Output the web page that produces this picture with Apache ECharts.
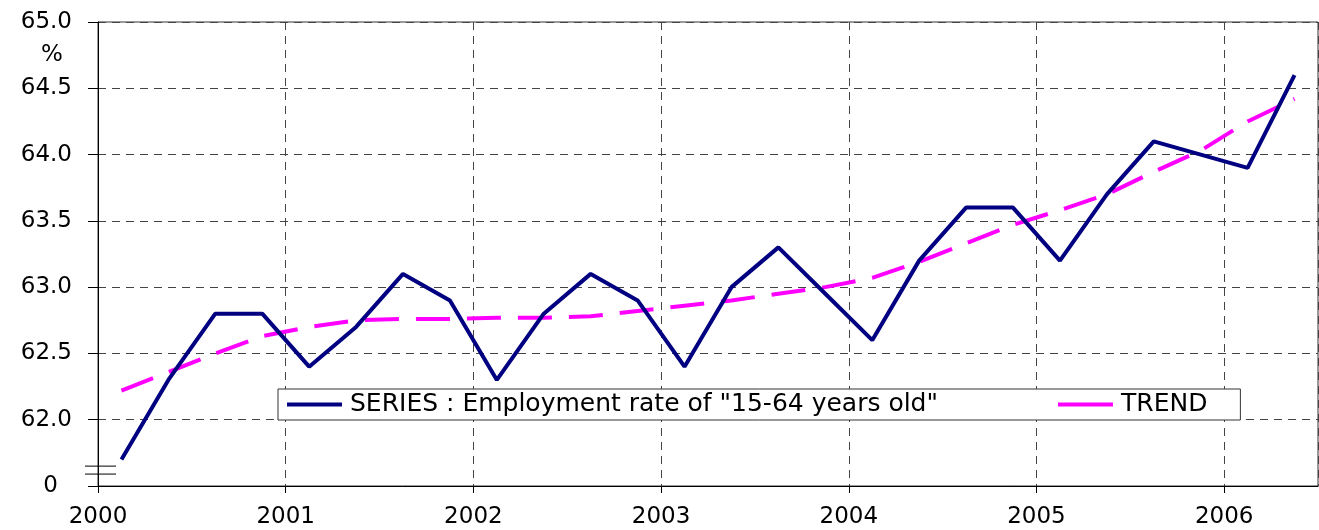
<!DOCTYPE html>
<html>
<head>
<meta charset="utf-8">
<script src="https://cdn.jsdelivr.net/npm/echarts@6/dist/echarts.min.js"></script>
<style>
	html, body { margin: 0; padding: 0; background: #fff; }
	#chart { width: 1319px; height: 530px; }
</style>
</head>
<body>
<div id="chart"></div>
<script>
// 季度
var quarters = [
	"2000Q1", "2000Q2", "2000Q3", "2000Q4",
	"2001Q1", "2001Q2", "2001Q3", "2001Q4",
	"2002Q1", "2002Q2", "2002Q3", "2002Q4",
	"2003Q1", "2003Q2", "2003Q3", "2003Q4",
	"2004Q1", "2004Q2", "2004Q3", "2004Q4",
	"2005Q1", "2005Q2", "2005Q3", "2005Q4",
	"2006Q1", "2006Q2"
];
// 就業率
var employmentRate = [
	61.7, 62.3, 62.8, 62.8,
	62.4, 62.7, 63.1, 62.9,
	62.3, 62.8, 63.1, 62.9,
	62.4, 63.0, 63.3, 62.95,
	62.6, 63.2, 63.6, 63.6,
	63.2, 63.7, 64.1, 64.0,
	63.9, 64.6
];
// 趨勢
var trend = [
	62.22, 62.36, 62.5, 62.63,
	62.7, 62.75, 62.76, 62.76,
	62.77, 62.77, 62.78, 62.82,
	62.86, 62.9, 62.95, 63.0,
	63.07, 63.19, 63.33, 63.47,
	63.58, 63.7, 63.87, 64.03,
	64.25, 64.42
];
var yearTicks = [2000, 2001, 2002, 2003, 2004, 2005, 2006];
var yTicks = [61.5, 62.0, 62.5, 63.0, 63.5, 64.0, 64.5, 65.0];
var seriesName = 'SERIES : Employment rate of "15-64 years old"';
var trendName = "TREND";

var FONT = "DejaVu Sans";

// 季度 -> 年份中點
function quarterX(q) {
	var year = parseInt(q.slice(0, 4), 10);
	var n = parseInt(q.slice(5), 10);
	return year + (n - 0.5) / 4;
}

function pairs(values) {
	return quarters.map(function (q, i) {
		return [quarterX(q), values[i]];
	});
}

function Line(dom) {
	var myChart = echarts.init(dom, null, {
		renderer: "canvas",
		useDirtyRect: false
	});
	var dashGrid = {
		show: true,
		lineStyle: { color: "#444", type: [8, 6], width: 1 }
	};
	var option = {
		animation: false,
		backgroundColor: "#fff",
		grid: {
			left: 98,
			right: 1,
			top: 22,
			bottom: 44,
			show: true,
			borderColor: "#333",
			borderWidth: 1
		},
		legend: {
			show: true,
			left: 278,
			top: 389,
			backgroundColor: "#fff",
			borderColor: "#333",
			borderWidth: 1,
			padding: [3, 33, 3, 9],
			itemGap: 120,
			icon: "rect",
			itemWidth: 55,
			itemHeight: 4,
			textStyle: { fontFamily: FONT, fontSize: 25, color: "#000", padding: [0, 0, 0, 3] },
			data: [seriesName, trendName]
		},
		xAxis: {
			type: "value",
			min: yearTicks[0],
			max: 2006.5,
			interval: 1,
			axisLine: { onZero: false, lineStyle: { color: "#000", width: 1 } },
			axisTick: { show: true, length: 7, lineStyle: { color: "#000" } },
			axisLabel: {
				showMaxLabel: false,
				margin: 20,
				color: "#000",
				fontFamily: FONT,
				fontSize: 23,
				formatter: function (v) { return String(v); }
			},
			splitLine: dashGrid
		},
		yAxis: {
			type: "value",
			min: yTicks[0],
			max: yTicks[yTicks.length - 1],
			interval: 0.5,
			axisLine: { show: true, lineStyle: { color: "#000", width: 1 } },
			axisTick: { show: true, length: 10, lineStyle: { color: "#000" } },
			axisLabel: {
				margin: 26,
				color: "#000",
				fontFamily: FONT,
				fontSize: 23,
				formatter: function (v) {
					return v === yTicks[0] ? "{z|0}" : v.toFixed(1);
				},
				rich: {
					z: { fontFamily: FONT, fontSize: 23, color: "#000", padding: [0, 14, 0, 0] }
				}
			},
			splitLine: dashGrid
		},
		series: [
			{
				name: seriesName,
				type: "line",
				data: pairs(employmentRate),
				symbol: "none",
				color: "#000080",
				lineStyle: { color: "#000080", width: 4 },
				z: 3
			},
			{
				name: trendName,
				type: "line",
				data: pairs(trend),
				symbol: "none",
				color: "#FF00FF",
				lineStyle: { color: "#FF00FF", width: 4, type: [34, 17] },
				z: 2
			}
		]
	};
	myChart.setOption(option);

	// 斷軸符號 與 單位
	var x0 = myChart.convertToPixel({ xAxisIndex: 0 }, yearTicks[0]);
	var b1 = myChart.convertToPixel({ yAxisIndex: 0 }, 61.65);
	var b2 = myChart.convertToPixel({ yAxisIndex: 0 }, 61.59);
	var yTop = myChart.convertToPixel({ yAxisIndex: 0 }, 64.75);
	myChart.setOption({
		graphic: [
			{ type: "line", shape: { x1: x0 - 13, y1: b1, x2: x0 + 18, y2: b1 }, style: { stroke: "#000", lineWidth: 1 }, z: 10 },
			{ type: "line", shape: { x1: x0 - 13, y1: b2, x2: x0 + 18, y2: b2 }, style: { stroke: "#000", lineWidth: 1 }, z: 10 },
			{
				type: "text",
				x: 52,
				y: yTop,
				style: { text: "%", fontFamily: FONT, fontSize: 23, fill: "#000", align: "center", verticalAlign: "middle" }
			}
		]
	});
	window.addEventListener("resize", myChart.resize);
}

Line(document.getElementById("chart"));
</script>
</body>
</html>
